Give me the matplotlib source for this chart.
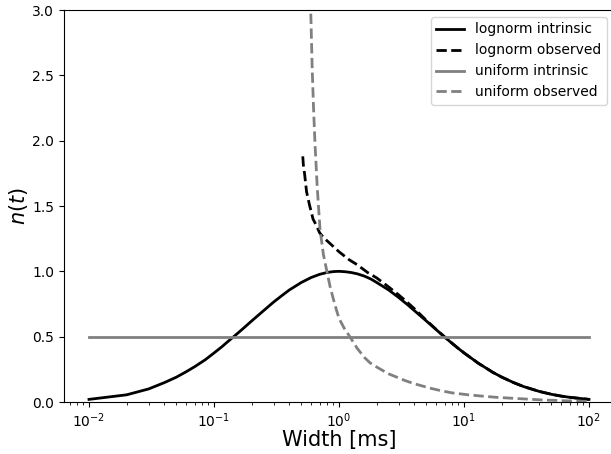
import matplotlib
matplotlib.use('Agg')
import matplotlib.pyplot as plt

# widths [ms] and n(t) values
width_ln = [0.01, 0.02, 0.03, 0.04, 0.05, 0.06, 0.07, 0.085, 0.1, 0.115, 0.13,
            0.15, 0.17, 0.2, 0.25, 0.3, 0.35, 0.4, 0.5, 0.6, 0.7, 0.8, 0.9, 1.0,
            1.12, 1.25, 1.4, 1.6, 1.8, 2, 2.5, 3, 3.5, 4, 5, 6, 7, 8, 9, 10, 11.5,
            13, 15, 17, 20, 25, 30, 40, 50, 60, 70, 85, 100]
lognorm_intrinsic = [0.02, 0.055, 0.10, 0.148, 0.19, 0.232, 0.27, 0.323, 0.375,
                     0.421, 0.465, 0.515, 0.56, 0.62, 0.70, 0.765, 0.815, 0.857,
                     0.915, 0.953, 0.977, 0.991, 0.998, 1.0, 0.997, 0.991, 0.981,
                     0.963, 0.941, 0.915, 0.857, 0.80, 0.748, 0.70, 0.62, 0.553,
                     0.497, 0.45, 0.41, 0.376, 0.334, 0.297, 0.26, 0.227, 0.191,
                     0.148, 0.118, 0.081, 0.059, 0.045, 0.036, 0.027, 0.02]

width_lo = [0.513, 0.52, 0.53, 0.55, 0.58, 0.62, 0.66, 0.7, 0.75, 0.8, 0.9, 1.0,
            1.2, 1.4, 1.7, 2.0, 2.5, 3.0, 3.5, 4, 5, 6, 7, 8, 9, 10, 11.5, 13,
            15, 17, 20, 25, 30, 40, 50, 60, 70, 85, 100]
lognorm_observed = [1.88, 1.80, 1.75, 1.61, 1.51, 1.40, 1.35, 1.295, 1.26,
                    1.235, 1.19, 1.15, 1.09, 1.05, 0.99, 0.95, 0.88, 0.82,
                    0.765, 0.715, 0.625, 0.555, 0.498, 0.451, 0.41, 0.376,
                    0.334, 0.297, 0.26, 0.227, 0.191, 0.148, 0.118, 0.081,
                    0.059, 0.045, 0.036, 0.027, 0.02]

width_ui = [0.01, 100]
uniform_intrinsic = [0.5, 0.5]

width_uo = [0.585, 0.594, 0.61, 0.625, 0.643, 0.67, 0.705, 0.75, 0.8, 0.85, 0.9,
            0.95, 1.0, 1.1, 1.22, 1.4, 1.6, 1.77, 2.0, 2.2, 2.5, 2.9, 3.4, 4,
            5.3, 6.5, 8, 11, 14, 18, 26, 40, 62, 100]
uniform_observed = [3.3, 3.0, 2.56, 2.26, 1.97, 1.64, 1.32, 1.13, 1.0, 0.88,
                    0.79, 0.71, 0.64, 0.565, 0.50, 0.41, 0.34, 0.30, 0.268,
                    0.245, 0.215, 0.19, 0.163, 0.14, 0.107, 0.087, 0.07, 0.054,
                    0.045, 0.036, 0.027, 0.017, 0.01, 0.004]

fig = plt.figure(figsize=(6.11, 4.54), dpi=100)
ax = fig.add_axes([64 / 611, 52 / 454, 550 / 611, 392 / 454])

ax.plot(width_ln, lognorm_intrinsic, color='k', lw=2, label='lognorm intrinsic')
ax.plot(width_lo, lognorm_observed, color='k', lw=2, ls='--', label='lognorm observed')
ax.plot(width_ui, uniform_intrinsic, color='grey', lw=2, label='uniform intrinsic')
ax.plot(width_uo, uniform_observed, color='grey', lw=2, ls='--', label='uniform observed')

ax.set_xscale('log')
ax.set_xlim(10**-2.2, 10**2.2)
ax.set_ylim(0, 3)
ax.set_xlabel('Width [ms]', fontsize=15, labelpad=0)
ax.set_ylabel('$n(t)$', fontsize=15, labelpad=2)
ax.legend(loc='upper right')

fig.savefig('out.png', dpi=100)
